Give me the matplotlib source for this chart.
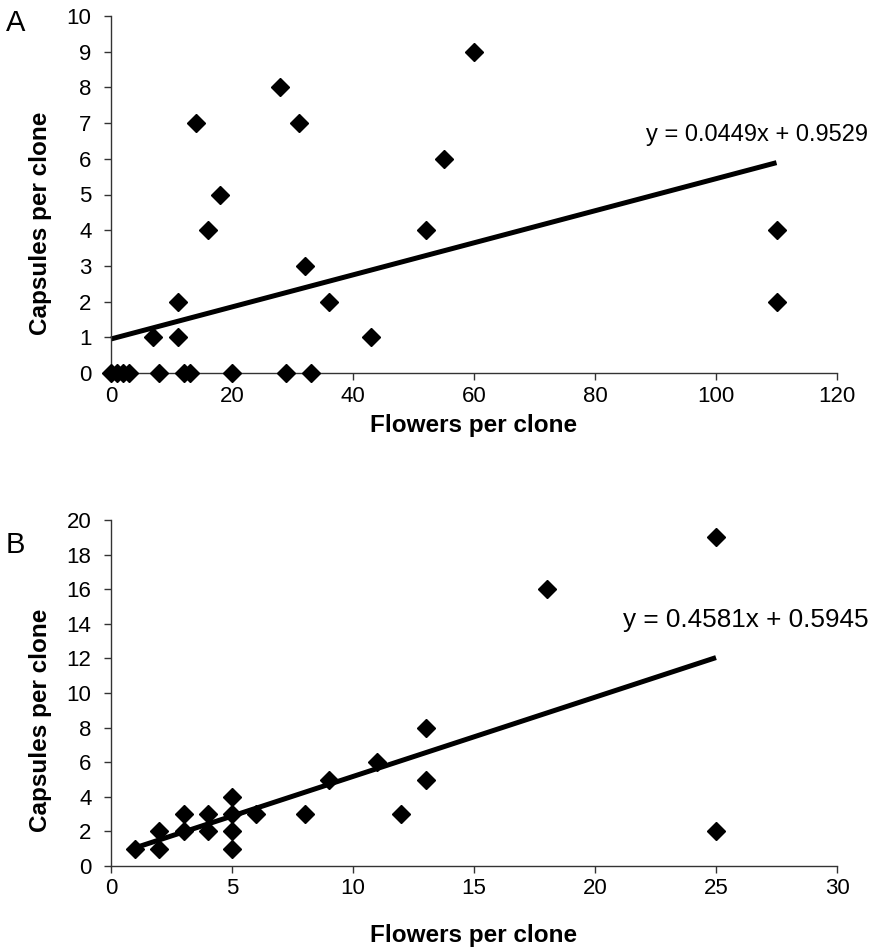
import matplotlib
matplotlib.use("Agg")
import matplotlib.pyplot as plt
import numpy as np

plt.rcParams['font.family'] = ['Liberation Sans', 'DejaVu Sans']

# Panel A data
a_flowers = [0, 1, 2, 3, 8, 12, 13, 20, 29, 33, 7, 11, 43, 11, 36, 110, 32, 16, 52, 110, 18, 55, 14, 31, 28, 60]
a_capsules = [0, 0, 0, 0, 0, 0, 0, 0, 0, 0, 1, 1, 1, 2, 2, 2, 3, 4, 4, 4, 5, 6, 7, 7, 8, 9]
a_slope, a_intercept = 0.0449, 0.9529
a_fit_x = [0, 110]

# Panel B data
b_flowers = [1, 2, 2, 3, 3, 4, 4, 5, 5, 5, 5, 6, 8, 9, 11, 12, 13, 13, 18, 25, 25]
b_capsules = [1, 2, 1, 3, 2, 3, 2, 4, 3, 2, 1, 3, 3, 5, 6, 3, 8, 5, 16, 19, 2]
b_slope, b_intercept = 0.4581, 0.5945
b_fit_x = [1, 25]

W, H = 872, 951
fig = plt.figure(figsize=(W/100, H/100), dpi=100)

def make_ax(l, r, t, b):
    return fig.add_axes([l/W, 1-b/H, (r-l)/W, (b-t)/H])

axA = make_ax(111, 837, 16, 373)
axB = make_ax(111, 837, 520, 866)

def style(ax, xlim, ylim, xt, yt, xlab_y):
    ax.set_xlim(*xlim)
    ax.set_ylim(*ylim)
    ax.set_xticks(xt)
    ax.set_yticks(yt)
    for s in ['top', 'right']:
        ax.spines[s].set_visible(False)
    for s in ['left', 'bottom']:
        ax.spines[s].set_color('#333333')
        ax.spines[s].set_linewidth(1.0)
    ax.tick_params(direction='out', length=5, width=1, color='#333333', labelsize=16)
    ax.tick_params(axis='y', pad=9)
    ax.tick_params(axis='x', pad=4)
    ax.set_xlabel('Flowers per clone', fontsize=17.5, fontweight='bold')
    ax.set_ylabel('Capsules per clone', fontsize=17.5, fontweight='bold')
    ax.xaxis.set_label_coords(0.5, xlab_y)
    ax.yaxis.set_label_coords(-0.081, 0.42)

style(axA, (0, 120), (0, 10), range(0, 121, 20), range(0, 11), -0.115)
style(axB, (0, 30), (0, 20), range(0, 31, 5), range(0, 21, 2), -0.168)

for ax, fx, fy, sl, ic, fitx in [
    (axA, a_flowers, a_capsules, a_slope, a_intercept, a_fit_x),
    (axB, b_flowers, b_capsules, b_slope, b_intercept, b_fit_x),
]:
    fxx = np.array(fitx, dtype=float)
    ax.plot(fxx, sl*fxx + ic, color='black', lw=3.6, solid_capstyle='butt', zorder=2, clip_on=False)
    ax.plot(fx, fy, linestyle='none', marker='D', markersize=9, color='black', zorder=3, clip_on=False)

fig.text(868/W, 1-135/H, 'y = 0.0449x + 0.9529', fontsize=17, ha='right', va='center')
fig.text(869/W, 1-620/H, 'y = 0.4581x + 0.5945', fontsize=18.8, ha='right', va='center')

fig.text(6/W, 1-23/H, 'A', fontsize=21, va='center', ha='left')
fig.text(6/W, 1-545/H, 'B', fontsize=21, va='center', ha='left')

fig.savefig('out.png', dpi=100)
